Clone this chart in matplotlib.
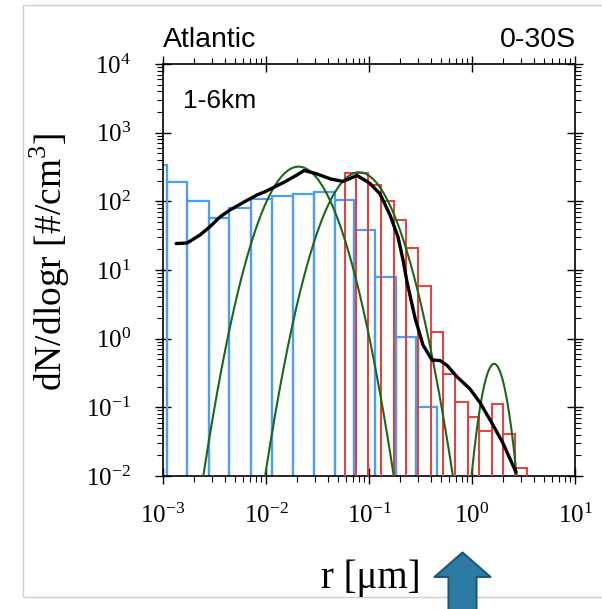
import matplotlib.pyplot as plt
import numpy as np
from matplotlib.patches import Polygon, Rectangle

# blue size distribution (bin edges in um, dN/dlogr per bin)
blue_edges = [0.00063, 0.00109, 0.00171, 0.0028, 0.00438, 0.00715, 0.0114, 0.0183,
              0.0292, 0.0468, 0.0715, 0.114, 0.183, 0.286, 0.457]
blue_vals = [338, 191, 102, 58, 80, 108, 120, 128, 137, 104, 38, 7.9, 1.06, 0.10]

# red size distribution
red_edges = [0.0585, 0.0748, 0.0977, 0.131, 0.175, 0.229, 0.299, 0.400, 0.522,
             0.684, 0.914, 1.17, 1.56, 2.00, 2.61, 3.42]
red_vals = [261, 256, 173, 101, 53.5, 20.9, 5.84, 1.25, 0.306, 0.120, 0.0724,
            0.0453, 0.112, 0.0409, 0.0131]

# black combined fit
fit_r = [0.00134, 0.00171, 0.00229, 0.00286, 0.00357, 0.00447, 0.00625, 0.00818,
         0.00977, 0.0153, 0.0200, 0.0234, 0.0299, 0.0428, 0.0560, 0.0764, 0.102,
         0.128, 0.160, 0.191, 0.214, 0.234, 0.280, 0.334, 0.409, 0.489, 0.571,
         0.714, 0.957, 1.20, 1.56, 2.00, 2.67]
fit_n = [24.3, 24.7, 32.4, 42.8, 59.2, 74.8, 99.5, 124, 138, 193, 242, 281, 256,
         211, 195, 238, 183, 128, 63.2, 30.5, 14.0, 6.68, 2.00, 0.81, 0.49, 0.48,
         0.41, 0.279, 0.185, 0.116, 0.059, 0.030, 0.0114]

# green lognormal modes: centre radius (um), peak dN/dlogr, width (log10 sigma)
mode_center = [0.0207, 0.080, 1.64]
mode_peak = [320, 265, 0.43]
mode_width = [0.203, 0.202, 0.080]

plt.rcParams['font.family'] = 'Liberation Serif'
plt.rcParams['mathtext.fontset'] = 'custom'
plt.rcParams['mathtext.rm'] = 'Liberation Serif'

fig = plt.figure(figsize=(6.02, 6.09), dpi=100)
ax = fig.add_axes([163 / 602, 1 - 476 / 609, 412 / 602, 412 / 609])
ax.set_xscale('log')
ax.set_yscale('log')
ax.set_xlim(1e-3, 1e1)
ax.set_ylim(1e-2, 1e4)

bw = np.diff(blue_edges)
ax.bar(blue_edges[:-1], np.array(blue_vals) - 1e-3, width=bw, bottom=1e-3, align='edge',
       fill=False, edgecolor='#4c9ff0', linewidth=1.6, zorder=2)
rw = np.diff(red_edges)
ax.bar(red_edges[:-1], np.array(red_vals) - 1e-3, width=rw, bottom=1e-3, align='edge',
       fill=False, edgecolor='#f23a3a', linewidth=1.4, zorder=3)

r = np.logspace(-3, 1, 600)
for c, p, w in zip(mode_center, mode_peak, mode_width):
    n = p * np.exp(-(np.log10(r) - np.log10(c)) ** 2 / (2 * w ** 2))
    ax.plot(r, n, color='#1c661c', lw=1.5, zorder=4)

ax.plot(fit_r, fit_n, color='black', lw=2.4, zorder=5, solid_capstyle='round')

ax.tick_params(which='major', direction='inout', length=12, width=1.0,
               top=True, right=True, labelsize=18)
ax.tick_params(which='minor', direction='out', length=4, width=0.8,
               top=True, right=True)
ax.tick_params(axis='x', which='major', pad=14)
ax.tick_params(axis='y', which='major', pad=17)
for s in ax.spines.values():
    s.set_linewidth(1.2)

ax.text(0, 1.041, 'Atlantic', transform=ax.transAxes, ha='left', va='baseline',
        fontsize=20.5, family='Liberation Sans')
ax.text(1.002, 1.041, '0-30S', transform=ax.transAxes, ha='right', va='baseline',
        fontsize=20.5, family='Liberation Sans')
ax.text(0.0485, 0.893, '1-6km', transform=ax.transAxes, ha='left', va='baseline',
        fontsize=19, family='Liberation Sans')

fig.text(50 / 602, 1 - 262 / 609, 'dN/dlogr [#/cm$^3$]', rotation=90,
         ha='center', va='center', fontsize=27)
fig.text(371 / 602, 1 - 578 / 609, 'r [μm]', ha='center', va='center', fontsize=28)

# slide frame and arrow
W, H = 602, 609
fig.patches.append(Rectangle((22.5 / W, 1 - 597 / H), 600 / W, 592 / H,
                             transform=fig.transFigure, fill=False,
                             edgecolor='#cfcfcf', lw=1.0))
arrow_px = [(462.5, 552.5), (490.5, 577), (476.5, 577), (476.5, 615),
            (448.5, 615), (448.5, 577), (434.5, 577)]
fig.patches.append(Polygon([(x / W, 1 - y / H) for x, y in arrow_px], closed=True,
                           transform=fig.transFigure, facecolor='#2b7ba5',
                           edgecolor='#1e5777', lw=1.5, joinstyle='round'))

fig.savefig('out.png', dpi=100)
